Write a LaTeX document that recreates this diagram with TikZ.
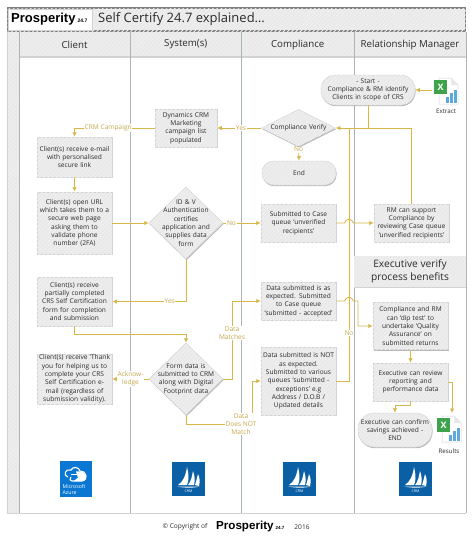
\documentclass[tikz,border=0pt]{standalone}
\usepackage{fontspec}
\setmainfont{Open Sans}
\newfontfamily\brandfont{Liberation Sans}
\usetikzlibrary{shapes.geometric,arrows.meta,patterns.meta,shadows,positioning}
\definecolor{gold}{HTML}{D8B648}
\definecolor{goldtxt}{HTML}{C4A84E}
\definecolor{boxfill}{HTML}{E9E9E9}
\definecolor{boxhatch}{HTML}{F0F0F0}
\definecolor{boxline}{HTML}{D2D2D2}
\definecolor{laneline}{HTML}{A9B4B8}
\definecolor{framegrey}{HTML}{7F7F7F}
\definecolor{txt}{HTML}{2B2B2B}
\definecolor{msblue}{HTML}{0B5FA5}
\definecolor{azblue}{HTML}{0A78D2}
\definecolor{xlgreen}{HTML}{3FA34D}
\definecolor{xlblue}{HTML}{5FA8DC}
\tikzset{
  x=1pt,y=-1pt,
  hatch/.style={fill=boxfill,postaction={pattern={Lines[angle=45,distance=3pt,line width=.9pt]},pattern color=boxhatch}},
  shade box/.style={drop shadow={shadow xshift=.6pt,shadow yshift=-1.2pt,opacity=.28,fill=black}},
  bodytext/.style={font=\fontsize{6.6}{8.3}\selectfont,text=txt,align=center},
  procbox/.style={hatch,shade box,draw=boxline,line width=.5pt,minimum width=75pt,inner sep=0pt,text width=73pt,bodytext},
  termbox/.style={procbox,minimum width=74pt},
  diabox/.style={diamond,aspect=1,hatch,shade box,draw=boxline,line width=.5pt,inner sep=0pt,minimum width=74pt},
  diatext/.style={bodytext,text width=70pt,inner sep=0pt},
  header/.style={hatch,draw=none,minimum height=25pt,inner sep=0pt,font=\fontsize{9.7}{11}\selectfont,text=txt},
  conn/.style={draw=gold,line width=.9pt,-{Latex[length=4.5pt,width=4.5pt]}},
  plain conn/.style={draw=gold,line width=.9pt},
  flowlabel/.style={fill=white,inner sep=.6pt,font=\fontsize{6.6}{7.8}\selectfont,text=goldtxt,align=center},
  icontext/.style={font=\fontsize{6.2}{8}\selectfont,text=txt},
  logotext/.style={text=white,inner sep=0pt,align=left},
}
\newcommand{\crmlogo}[1]{%
  \begin{scope}[shift={#1}]
    \fill[msblue] (0,0) rectangle (33,34);
    \fill[white] (6,23) .. controls (11,20) and (14,13) .. (15,5) .. controls (17,12) and (17,19) .. (15,23) -- cycle;
    \fill[white] (16,23) .. controls (19,20) and (20,14) .. (21,9) .. controls (23,14) and (23,19) .. (22,23) -- cycle;
    \fill[white] (23,23) .. controls (24,20) and (25,16) .. (26,12) .. controls (28,16) and (28,20) .. (27,24) -- cycle;
    \fill[white] (5,24.5) -- (28,24.5) .. controls (22,26) and (12,26) .. (5,24.5) -- cycle;
    \node[logotext,font=\fontsize{3.6}{4}\selectfont] at (16.5,29) {CRM};
  \end{scope}}
\newcommand{\xlicon}[1]{%
  \begin{scope}[shift={#1}]
    \fill[white,draw=boxline,line width=.5pt] (5,0) -- (17,0) -- (24,7) -- (24,26) -- (5,26) -- cycle;
    \fill[boxfill] (17,0) -- (24,7) -- (17,7) -- cycle;
    \fill[xlblue] (12,19) rectangle (15,25);
    \fill[xlblue] (16,15) rectangle (19,25);
    \fill[xlblue] (20,12) rectangle (23,25);
    \fill[xlgreen] (0,2) rectangle (13,16);
    \node[text=white,inner sep=0pt,font=\bfseries\fontsize{9}{9}\selectfont] at (6.5,9) {X};
  \end{scope}}
\begin{document}
\begin{tikzpicture}
\useasboundingbox (0,0) rectangle (474,544);
\fill[white] (0,0) rectangle (474,544);
% left strip and lanes
\path[hatch] (7,32) rectangle (19,513);
\draw[boxline,line width=.8pt] (7,32) -- (7,513) -- (466,513);
% headers
\node[header,minimum width=111pt] (hclient) at (74.5,44.5) {Client};
\node[header,minimum width=111.5pt] (hsys) at (185.75,44.5) {System(s)};
\node[header,minimum width=112.5pt] (hcomp) at (297.75,44.5) {Compliance};
\node[header,minimum width=112pt] (hrm) at (410,44.5) {Relationship Manager};
\draw[boxline,line width=1.2pt] (19,57) -- (466,57);
\draw[laneline,line width=.9pt] (19,32) -- (19,513);
\draw[laneline,line width=.9pt] (130,32) -- (130,513);
\draw[laneline,line width=.9pt] (241.5,32) -- (241.5,513);
\draw[laneline,line width=.9pt] (354,32) -- (354,513);
\draw[laneline,line width=.9pt] (466,32) -- (466,513);
% title
\node[hatch,draw=framegrey,line width=1.3pt,minimum width=458pt,minimum height=23pt,inner sep=0pt] (titleframe) at (236.5,19.5) {};
\node[fill=white,draw=boxline,line width=.5pt,minimum width=84pt,minimum height=20.5pt,inner sep=0pt] (brand) at (50.5,19.5) {};
\node[anchor=west,inner sep=0pt,text=black] (brandtext) at (11,19.5) {\brandfont\bfseries\fontsize{13}{13}\selectfont Prosperity\,{\fontsize{5}{5}\selectfont 24.7}};
\node[anchor=west,inner sep=0pt,text=txt,font=\fontsize{13}{14}\selectfont] (title) at (98,19) {Self Certify 24.7 explained\dots};
% executive header
\node[hatch,draw=none,minimum width=112pt,minimum height=31pt,inner sep=0pt,align=center,font=\fontsize{10.2}{12.4}\selectfont,text=txt] (exec) at (410,271.5) {Executive verify\\process benefits};
\draw[boxline,line width=1.2pt] (exec.south west) -- (exec.south east);
% process nodes
\node[termbox,rounded corners=14.5pt,minimum height=30pt,minimum width=94pt,text width=90pt] (start) at (368,90) {- Start -\\Compliance \& RM identify\\Clients in scope of CRS};
\node[procbox,minimum width=62pt,text width=60pt,minimum height=38pt] (dyn) at (186,128) {Dynamics CRM\\Marketing\\campaign list\\populated};
\node[diabox,minimum height=37pt,label={[diatext]center:{Compliance Verify}}] (verify) at (298.5,128) {};
\node[termbox,rounded corners=11.5pt,minimum height=24pt] (endn) at (299,173) {End};
\node[procbox,minimum height=40pt] (email) at (74.5,157) {Client(s) receive e-mail\\with personalised\\secure link};
\node[procbox,minimum height=62pt] (url) at (74.5,223) {Client(s) open URL\\which takes them to a\\secure web page\\asking them to\\validate phone\\number (2FA)};
\node[diabox,minimum height=72pt,label={[diatext]center:{ID \& V\\Authentication\\certifies\\application and\\supplies data\\form}}] (idv) at (186,223) {};
\node[procbox,minimum height=38pt] (queue) at (298.5,223) {Submitted to Case\\queue ‘unverified\\recipients’};
\node[procbox,minimum height=38pt] (rm) at (411.5,223) {RM can support\\Compliance by\\reviewing Case queue\\‘unverified recipients’};
\node[procbox,minimum height=49pt] (partial) at (74.5,301.5) {Client(s) receive\\partially completed\\CRS Self Certification\\form for completion\\and submission};
\node[procbox,minimum height=38pt] (accepted) at (298.5,301) {Data submitted is as\\expected. Submitted\\to Case queue\\‘submitted - accepted’};
\node[procbox,minimum height=47pt] (dip) at (410.5,326) {Compliance and RM\\can ‘dip test’ to\\undertake ‘Quality\\Assurance’ on\\submitted returns};
\node[procbox,minimum height=50pt] (thank) at (74.5,379) {Client(s) receive ‘Thank\\you for helping us to\\complete your CRS\\Self Certification e-\\mail (regardless of\\submission validity).};
\node[diabox,minimum height=72pt,label={[diatext]center:{Form data is\\submitted to CRM\\along with Digital\\Footprint data}}] (form) at (186,379) {};
\node[procbox,minimum height=68pt] (notexp) at (298.5,381) {Data submitted is NOT\\as expected.\\Submitted to various\\queues ‘submitted -\\exceptions’ e.g\\Address / D.O.B /\\Updated details};
\node[procbox,minimum height=38pt] (review) at (410.5,382) {Executive can review\\reporting and\\performance data};
\node[termbox,rounded corners=16.5pt,minimum height=34pt,minimum width=74pt,text width=72pt] (confirm) at (395,430) {Executive can confirm\\savings achieved -\\END};
% icons
\xlicon{(434,78)}
\coordinate (extract) at (432,90);
\node[icontext,inner sep=0pt] (extracttxt) at (446,111) {Extract};
\xlicon{(437,416)}
\coordinate (results) at (452,413);
\node[icontext,inner sep=0pt] (resultstxt) at (449,451) {Results};
% logos
\fill[azblue] (60,461) rectangle (92,497);
\draw[white,line width=1.1pt,fill=azblue] (68,477) .. controls (63,476) and (65,468) .. (71,470) .. controls (73,466) and (79,467) .. (80,471) .. controls (86,470) and (89,480) .. (82,481) -- (72,481) .. controls (70,481) and (69,479) .. (71,477);
\fill[white] (76,471.5) .. controls (81,470.5) and (87,473) .. (86.5,477) .. controls (86.5,480) and (84,481) .. (82,481) -- (74,481) -- (78,477.5) -- cycle;
\draw[white,line width=.7pt] (71,474.5) -- (79,474.5);
\node[logotext,font=\fontsize{5.2}{5.6}\selectfont,anchor=west] (azure) at (62.5,489.5) {Microsoft\\Azure};
\crmlogo{(172,462)}
\crmlogo{(283,462)}
\crmlogo{(399,462)}
% connectors
\draw[conn] (extract) -- (start.east);
\draw[plain conn] (start.south) -- ++(0,23) coordinate (j1);
\draw[conn] (rm.north) |- (verify.east);
\draw[conn] (verify.west) -- (dyn.east) node[flowlabel,pos=.46] (yes1) {Yes};
\draw[conn] (dyn.west) -| (email.north) node[flowlabel,pos=.29] (crmc) {CRM Campaign};
\draw[conn] (verify.south) -- (endn.north) node[flowlabel,pos=.2] (no1) {No};
\draw[conn] (email.south) -- (url.north);
\draw[conn] (url.east) -- (idv.west);
\draw[conn] (idv.east) -- (queue.west) node[flowlabel,pos=.22] (no2) {No};
\draw[conn] (idv.south) |- (partial.east) node[flowlabel,pos=.61] (yes2) {Yes};
\draw[conn] (partial.south) -- ++(0,8) -| (form.north);
\draw[conn] (form.west) -- (thank.east) node[flowlabel,pos=.5] (ack) {Acknow-\\ledge};
\coordinate (m1) at (232,379);
\coordinate (m2) at (232,301);
\draw[conn] (form.east) -- (m1) -- (m2) -- (accepted.west);
\node[flowlabel] (matches) at (232,333) {Data\\Matches};
\coordinate (n1) at (186,424);
\coordinate (n2) at (252,424);
\coordinate (n3) at (252,381);
\draw[conn] (form.south) -- (n1) -- (n2) -- (n3) -- (notexp.west);
\node[flowlabel] (dnm) at (241,424) {Data\\Does NOT\\Match};
\coordinate (v1) at (349,381);
\coordinate (v2) at (349,128);
\draw[plain conn] (notexp.east) -- (v1) -- (v2);
\node[flowlabel] (no3) at (349,333) {No};
\draw[conn] (queue.east) -- (344.5,223) .. controls (346.5,218) and (351.5,218) .. (353.5,223) -- (rm.west);
\draw[conn] (accepted.east) -- (344.5,301) .. controls (346.5,296) and (351.5,296) .. (353.5,301) -- (358,301) |- (dip.west);
\draw[conn] (dip.south) -- (review.north);
\draw[conn] (review.south) -- ++(0,4) -| (confirm.north);
\draw[conn] (review.east) -| (results);
% footer
\node[inner sep=0pt,text=txt,font=\fontsize{6.6}{8}\selectfont] (copy) at (185,527) {© Copyright of};
\node[inner sep=0pt,anchor=west,text=black] (brand2) at (216,526.5) {\brandfont\bfseries\fontsize{11.6}{12}\selectfont Prosperity\,{\fontsize{4.5}{5}\selectfont 24.7}};
\node[inner sep=0pt,text=txt,font=\fontsize{6.6}{8}\selectfont] (year) at (302,527) {2016};
\end{tikzpicture}
\end{document}
